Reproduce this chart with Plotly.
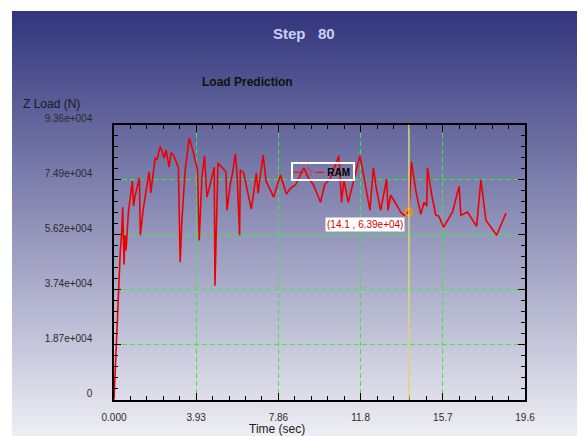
import zlib, struct, base64
import plotly.graph_objects as go

# ---------------- data ----------------
time_s = [0.0, 0.048, 0.129, 0.206, 0.254, 0.302, 0.359, 0.417, 0.479, 0.527, 0.575, 0.685,
          0.877, 0.935, 1.006, 1.213, 1.260, 1.390, 1.677, 1.759, 1.965, 2.047, 2.205, 2.334,
          2.396, 2.492, 2.636, 2.732, 2.842, 3.082, 3.163, 3.245, 3.403, 3.595, 3.801, 3.992,
          4.074, 4.203, 4.328, 4.443, 4.601, 4.793, 4.826, 4.889, 4.970, 5.353, 5.401, 5.560,
          5.670, 5.799, 5.881, 6.005, 6.039, 6.197, 6.360, 6.470, 6.566, 6.676, 6.806, 6.887,
          7.127, 7.271, 7.635, 7.956, 8.244, 8.435, 8.675, 9.073, 9.298, 9.538, 9.873, 10.065,
          10.352, 10.496, 10.750, 10.879, 10.990, 11.200, 11.454, 11.756, 11.934, 12.236, 12.399,
          12.557, 12.749, 12.892, 13.036, 13.099, 13.228, 13.468, 13.707, 13.865, 14.1, 14.220,
          14.426, 14.666, 14.824, 14.953, 14.987, 15.193, 15.385, 15.528, 15.754, 16.185, 16.501,
          16.583, 16.904, 17.335, 17.541, 17.781, 18.294, 18.740]
z_load = [0, 8600, 20000, 31400, 44000, 50800, 56000, 65500, 46000, 56000, 50800, 63500,
          74400, 65900, 69300, 75500, 56000, 64500, 77600, 70400, 82300, 81600, 86100, 84000,
          82300, 85000, 79200, 84000, 83300, 78900, 46800, 61100, 78200, 89100, 84000, 78200,
          54200, 75800, 83000, 69000, 73400, 79200, 38800, 57700, 80600, 77600, 64500, 73400,
          77200, 83700, 77200, 56000, 78200, 77200, 71300, 68300, 64900, 70300, 77200, 70300,
          83300, 74400, 69000, 76500, 70000, 72000, 73100, 78900, 75500, 73100, 67200, 73100,
          75500, 78200, 83000, 67200, 74800, 67200, 74800, 83000, 76500, 64500, 78900,
          71300, 64500, 69600, 75100, 64500, 69600, 66900, 63800, 62800, 63900, 81000,
          71300, 63100, 67200, 65900, 78900, 69600, 62800, 62500, 58700, 63900, 72700,
          62800, 63900, 59000, 74800, 61100, 56000, 63500]

series_name = "RAM"
cursor_time = [14.1]
cursor_load = [63900]
cursor_label = ["(14.1 , 6.39e+04)"]

x_tick_vals = [0, 3.93, 7.86, 11.79, 15.72, 19.65]
x_tick_text = ["0.000", "3.93", "7.86", "11.8", "15.7", "19.6"]
y_tick_vals = [0, 18720, 37440, 56160, 74880, 93600]
y_tick_text = ["0", "1.87e+004", "3.74e+004", "5.62e+004", "7.49e+004", "9.36e+004"]

# ---------------- background gradient image ----------------
def gradient_png(h, top, bot):
    raw = b""
    for i in range(h):
        t = i / (h - 1)
        raw += b"\x00" + bytes([round(top[k] + (bot[k] - top[k]) * t) for k in range(3)])

    def chunk(tag, data):
        return (struct.pack(">I", len(data)) + tag + data
                + struct.pack(">I", zlib.crc32(tag + data) & 0xffffffff))

    png = (b"\x89PNG\r\n\x1a\n"
           + chunk(b"IHDR", struct.pack(">IIBBBBB", 1, h, 8, 2, 0, 0, 0))
           + chunk(b"IDAT", zlib.compress(raw))
           + chunk(b"IEND", b""))
    return "data:image/png;base64," + base64.b64encode(png).decode()

# page body has an 8px margin; figure sized to fill the rest of the 585x436 window
OFF = 8
W, H = 585 - OFF, 436 - OFF
def fx(px):
    return (px - OFF) / W
def fy(py):
    return 1 - (py - OFF) / H

FONT = "Liberation Sans, Arial, sans-serif"

fig = go.Figure()
fig.add_trace(go.Scatter(x=time_s, y=z_load, mode="lines", name=series_name,
                         line=dict(color="#ee0000", width=1.6),
                         showlegend=False, hoverinfo="skip"))
# cursor marker
fig.add_trace(go.Scatter(x=cursor_time, y=cursor_load, mode="markers",
                         marker=dict(symbol="circle-open", size=7, color="#ff8c00",
                                     line=dict(width=2, color="#ff8c00")),
                         showlegend=False, hoverinfo="skip"))

fig.add_vline(x=cursor_time[0], line=dict(color="#d8d870", width=1.5))

fig.add_annotation(x=cursor_time[0], y=cursor_load[0], text=cursor_label[0],
                   showarrow=False, xanchor="right", yanchor="top", xshift=-4, yshift=-5,
                   bgcolor="white", borderpad=1,
                   font=dict(family=FONT, size=10, color="#dd0000"))

# legend box (line + star sample, series name)
fig.add_annotation(xref="paper", yref="paper", x=fx(291), y=fy(162),
                   xanchor="left", yanchor="top", showarrow=False,
                   text=('<span style="color:#ee0000;font-size:13px">─☆─</span>'
                         '<b> ' + series_name + ' </b>'),
                   bordercolor="white", borderwidth=2, borderpad=0,
                   font=dict(family=FONT, size=10, color="black"))

# texts
fig.add_annotation(xref="paper", yref="paper", x=fx(304), y=fy(33), text="<b>Step   80</b>",
                   showarrow=False, xanchor="center", yanchor="middle",
                   font=dict(family=FONT, size=15, color="#c8d0f4"))
fig.add_annotation(xref="paper", yref="paper", x=fx(247), y=fy(82), text="<b>Load Prediction</b>",
                   showarrow=False, xanchor="center", yanchor="middle",
                   font=dict(family=FONT, size=12, color="#111111"))
fig.add_annotation(xref="paper", yref="paper", x=fx(21), y=fy(104), text="Z Load (N)",
                   showarrow=False, xanchor="left", yanchor="middle",
                   font=dict(family=FONT, size=12, color="#1a1a1a"))
fig.add_annotation(xref="paper", yref="paper", x=fx(277), y=fy(429), text="Time (sec)",
                   showarrow=False, xanchor="center", yanchor="middle",
                   font=dict(family=FONT, size=12, color="#1a1a1a"))

fig.add_layout_image(dict(source=gradient_png(425, (50, 53, 125), (238, 238, 244)),
                          xref="paper", yref="paper", x=fx(12), y=fy(11),
                          sizex=(585 - 12) / W, sizey=(436 - 11) / H,
                          xanchor="left", yanchor="top", sizing="stretch", layer="below"))

axis_common = dict(showline=True, linecolor="black", linewidth=1.5, mirror="ticks",
                   ticks="inside", ticklen=7, tickcolor="black", tickwidth=1.2,
                   showgrid=True, gridcolor="#33f033", griddash="5px,3px", gridwidth=1,
                   zeroline=False, automargin=False,
                   tickfont=dict(family=FONT, size=10, color="#2a2a2a"))

fig.update_xaxes(**axis_common, domain=[fx(114), fx(525)], range=[0, 19.65],
                 tickmode="array", tickvals=x_tick_vals, ticktext=x_tick_text,
                 ticklabelstandoff=7,
                 minor=dict(dtick=0.786, tick0=0, ticks="inside", ticklen=4,
                            tickcolor="black", showgrid=False))
fig.update_yaxes(**axis_common, domain=[fy(399.75), fy(124.75)], range=[0, 93600],
                 tickmode="array", tickvals=y_tick_vals, ticktext=y_tick_text,
                 ticklabelposition="outside", ticklabelstandoff=18, ticklabelshift=-6,
                 minor=dict(dtick=3744, tick0=0, ticks="inside", ticklen=4,
                            tickcolor="black", showgrid=False))

fig.update_layout(width=W, height=H, margin=dict(l=0, r=0, t=0, b=0, pad=0, autoexpand=False),
                  paper_bgcolor="white", plot_bgcolor="rgba(0,0,0,0)",
                  font=dict(family=FONT), showlegend=False)

fig.write_html("out.html")
